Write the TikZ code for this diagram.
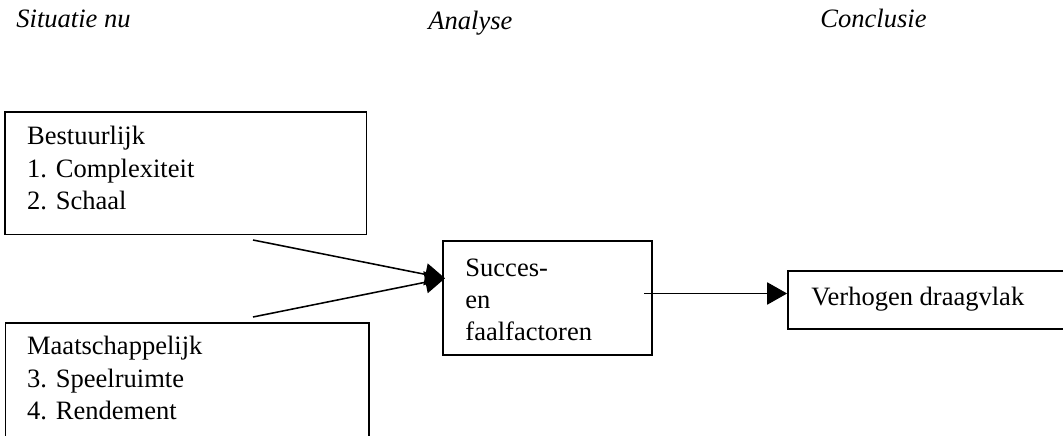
\documentclass[tikz,border=0pt]{standalone}
\usepackage{fontspec}
\setmainfont{Liberation Serif}
\usetikzlibrary{arrows.meta,fit}
\tikzset{
  box/.style={draw, line width=0.8pt, inner sep=0pt},
  txt/.style={inner sep=0pt, anchor=base west, font=\fontsize{12pt}{14.5pt}\selectfont},
  head/.style={inner sep=0pt, anchor=base west, font=\fontsize{12pt}{14.5pt}\selectfont\itshape},
  arr/.style={line width=0.7pt, -{Triangle[length=9pt,width=10pt]}}
}
\begin{document}
\begin{tikzpicture}[x=0.4525pt, y=-0.4525pt]
\useasboundingbox (0,0) rectangle (1063,436);
\clip (0,0) rectangle (1063,436);
% headers
\node[head] (h1) at (16,28) {Situatie nu};
\node[head] (h2) at (428,30) {Analyse};
\node[head] (h3) at (820,28) {Conclusie};
% boxes
\node[box, fit={(5,112) (366.5,234.5)}] (b1) {};
\node[box, fit={(5.5,322.7) (369.3,450)}] (b2) {};
\node[box, fit={(443,241) (652,355)}] (suc) {};
\node[box, fit={(788,271) (1080,329)}] (vd) {};
% texts
\node[txt] (t1) at (26.7,145) {\begin{tabular}[t]{@{}l@{}}Bestuurlijk\\1. Complexiteit\\2. Schaal\end{tabular}};
\node[txt] (t2) at (26.7,355) {\begin{tabular}[t]{@{}l@{}}Maatschappelijk\\3. Speelruimte\\4. Rendement\end{tabular}};
\node[txt] (t3) at (465,276.7) {\begin{tabular}[t]{@{}l@{}}Succes-\\en\\faalfactoren\end{tabular}};
\node[txt] (t4) at (811,306) {Verhogen draagvlak};
% connectors
\coordinate (a1) at (253,240);
\coordinate (a2) at (253,317);
\coordinate (tip) at (445,278.3);
\draw[arr] (a1) -- (tip);
\draw[arr] (a2) -- (tip);
\coordinate (c1) at (644,293.5);
\draw[arr] (c1) -- (vd.west |- c1);
\end{tikzpicture}
\end{document}
